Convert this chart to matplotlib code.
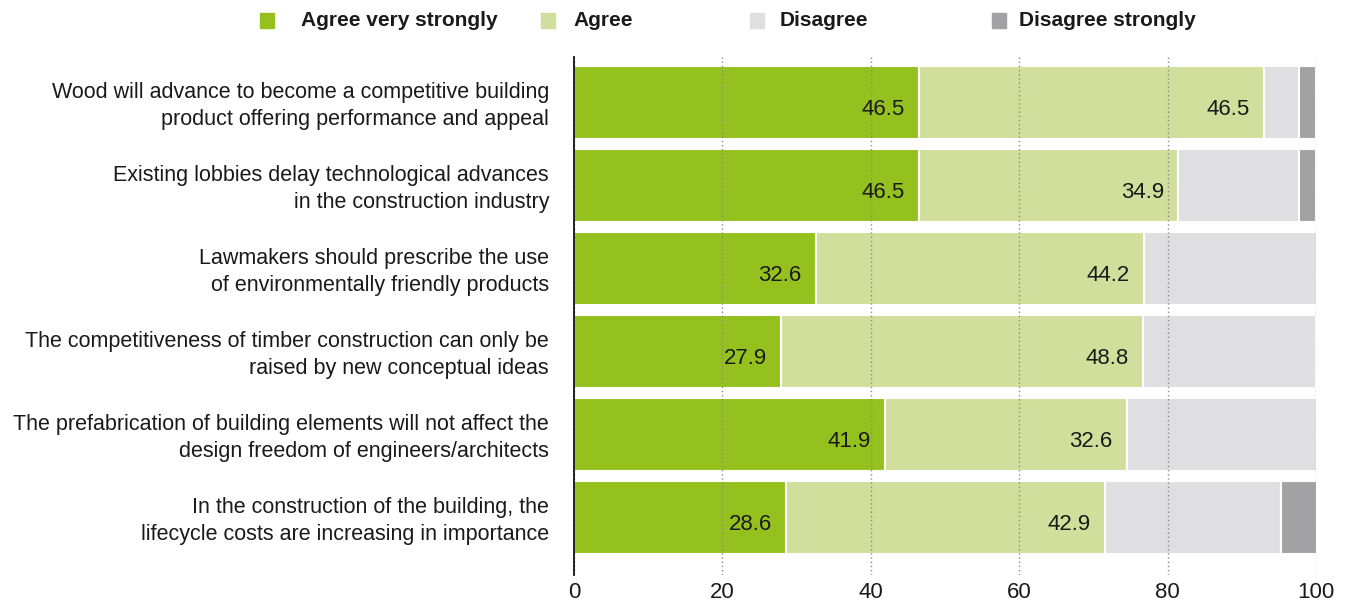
import matplotlib.pyplot as plt
from matplotlib.patches import Rectangle

plt.rcParams['font.family'] = ['Liberation Sans', 'DejaVu Sans']

statements = [
    "Wood will advance to become a competitive building\nproduct offering performance and appeal",
    "Existing lobbies delay technological advances\nin the construction industry",
    "Lawmakers should prescribe the use\nof environmentally friendly products",
    "The competitiveness of timber construction can only be\nraised by new conceptual ideas",
    "The prefabrication of building elements will not affect the\ndesign freedom of engineers/architects",
    "In the construction of the building, the\nlifecycle costs are increasing in importance",
]
agree_very = [46.5, 46.5, 32.6, 27.9, 41.9, 28.6]
agree = [46.5, 34.9, 44.2, 48.8, 32.6, 42.9]
disagree = [4.7, 16.3, 23.3, 23.3, 25.6, 23.8]
disagree_strongly = [2.3, 2.3, 0.0, 0.0, 0.0, 4.8]

series_names = ["Agree very strongly", "Agree", "Disagree", "Disagree strongly"]
colors = ["#95c11f", "#d0e09c", "#dfdfe1", "#a2a2a5"]

fig = plt.figure(figsize=(13.52, 6), dpi=100)
ax = fig.add_axes([0.4246, 0.042, 0.5488, 0.863])

ypos = list(range(len(statements)))
all_series = [agree_very, agree, disagree, disagree_strongly]
left = [0.0] * len(statements)
for vals, col in zip(all_series, colors):
    ax.barh(ypos, vals, left=left, height=0.88, color=col,
            edgecolor="white", linewidth=1.5, zorder=2)
    left = [l + v for l, v in zip(left, vals)]

# value labels for the first two series
for i in ypos:
    ax.text(agree_very[i] - 1.9, i + 0.08, f"{agree_very[i]:.1f}",
            ha="right", va="center", fontsize=16, color="#1a1a1a", zorder=4)
    end = agree_very[i] + agree[i]
    ax.text(end - 1.9, i + 0.08, f"{agree[i]:.1f}",
            ha="right", va="center", fontsize=16, color="#1a1a1a", zorder=4)

ax.set_xlim(0, 100)
ax.set_ylim(5.69, -0.55)
ax.set_xticks([0, 20, 40, 60, 80, 100])
ax.set_yticks([y - 0.02 for y in ypos])
ax.set_yticklabels(statements, fontsize=15.5, linespacing=1.32, color="#1a1a1a")
ax.tick_params(axis="y", length=0, pad=18)
ax.tick_params(axis="x", length=0, labelsize=16, pad=5, labelcolor="#1a1a1a")
ax.set_axisbelow(False)
ax.xaxis.grid(True, linestyle=(0, (1, 2)), color="#8a8a8a", linewidth=1)
for gl in ax.get_xgridlines():
    gl.set_zorder(3)
for sp in ["top", "right", "bottom"]:
    ax.spines[sp].set_visible(False)
ax.spines["left"].set_color("#111111")
ax.spines["left"].set_linewidth(1.3)
ax.spines["left"].set_zorder(5)

# legend drawn manually across the top
leg_x = [260, 541, 750, 992]
text_x = [301, 573, 780, 1019]
for name, col, x, tx in zip(series_names, colors, leg_x, text_x):
    fig.patches.append(Rectangle((x / 1352, 1 - 28 / 600), 14 / 1352, 15 / 600,
                                 transform=fig.transFigure, color=col))
    fig.text(tx / 1352, 1 - 21 / 600, name, color="#1a1a1a",
             fontsize=15, fontweight="bold", va="center", ha="left")

fig.savefig("out.png", dpi=100)
